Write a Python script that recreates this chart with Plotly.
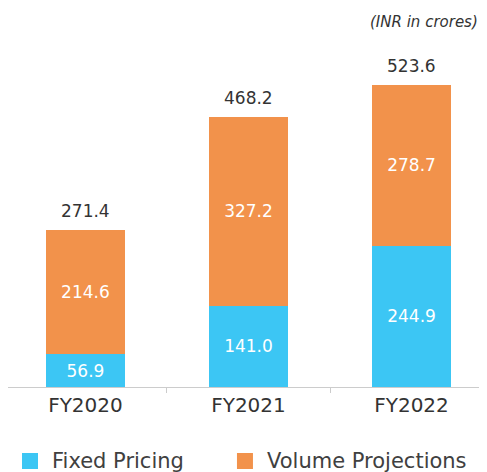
import plotly.graph_objects as go

years = ["FY2020", "FY2021", "FY2022"]
fixed_pricing = [56.9, 141.0, 244.9]
volume_projections = [214.6, 327.2, 278.7]
totals = [271.4, 468.2, 523.6]

FONT = "DejaVu Sans"
BLUE = "#3CC6F4"
ORANGE = "#F2924B"

fig = go.Figure()
fig.add_trace(go.Bar(
    name="Fixed Pricing", x=years, y=fixed_pricing,
    marker=dict(color=BLUE, line=dict(width=0)),
    text=[f"{v:.1f}" for v in fixed_pricing], textposition="inside",
    insidetextanchor="middle", textfont=dict(color="white", size=17, family=FONT),
    width=0.49,
))
fig.add_trace(go.Bar(
    name="Volume Projections", x=years, y=volume_projections,
    marker=dict(color=ORANGE, line=dict(width=0)),
    text=[f"{v:.1f}" for v in volume_projections], textposition="inside",
    insidetextanchor="middle", textfont=dict(color="white", size=17, family=FONT),
    width=0.49,
))

# totals above each stack
annotations = [
    dict(x=yr, y=tot, text=f"{tot:.1f}", showarrow=False, yanchor="bottom", yshift=7,
         font=dict(size=17, color="#333333", family=FONT))
    for yr, tot in zip(years, totals)
]
annotations.append(dict(text="<i>(INR in crores)</i>", xref="paper", yref="paper",
                        x=0.985, y=1.022, xanchor="right", yanchor="middle",
                        showarrow=False, font=dict(size=15, color="#333333")))

# hand-drawn legend (bigger squares, wider spacing than plotly's)
legend_items = [("Fixed Pricing", BLUE, 0.0292, 0.0877), ("Volume Projections", ORANGE, 0.478, 0.5365)]
shapes = []
for label, col, sx, tx in legend_items:
    shapes.append(dict(type="rect", xref="paper", yref="paper", x0=sx, x1=sx + 0.0334,
                       y0=-0.2297, y1=-0.1849, fillcolor=col, line=dict(width=0)))
    annotations.append(dict(text=label, xref="paper", yref="paper", x=tx, y=-0.2073,
                            xanchor="left", yanchor="middle", showarrow=False,
                            font=dict(size=21, color="#404040", family=FONT)))

# page body has an 8px margin, so the figure is a bit smaller than the window
fig.update_layout(
    width=479, height=464,
    barmode="stack",
    showlegend=False,
    plot_bgcolor="white", paper_bgcolor="white",
    margin=dict(l=0, r=0, t=22, b=85),
    font=dict(family=FONT, color="#333333"),
    xaxis=dict(showline=True, linecolor="#CCCCCC", linewidth=1, ticks="outside",
               tickson="boundaries", ticklen=5, tickcolor="#CCCCCC",
               tickfont=dict(size=20, color="#333333"), showgrid=False,
               range=[-0.475, 2.463]),
    yaxis=dict(visible=False, range=[0, 619], showgrid=False, zeroline=False),
    annotations=annotations,
    shapes=shapes,
)

fig.write_html("out.html")
